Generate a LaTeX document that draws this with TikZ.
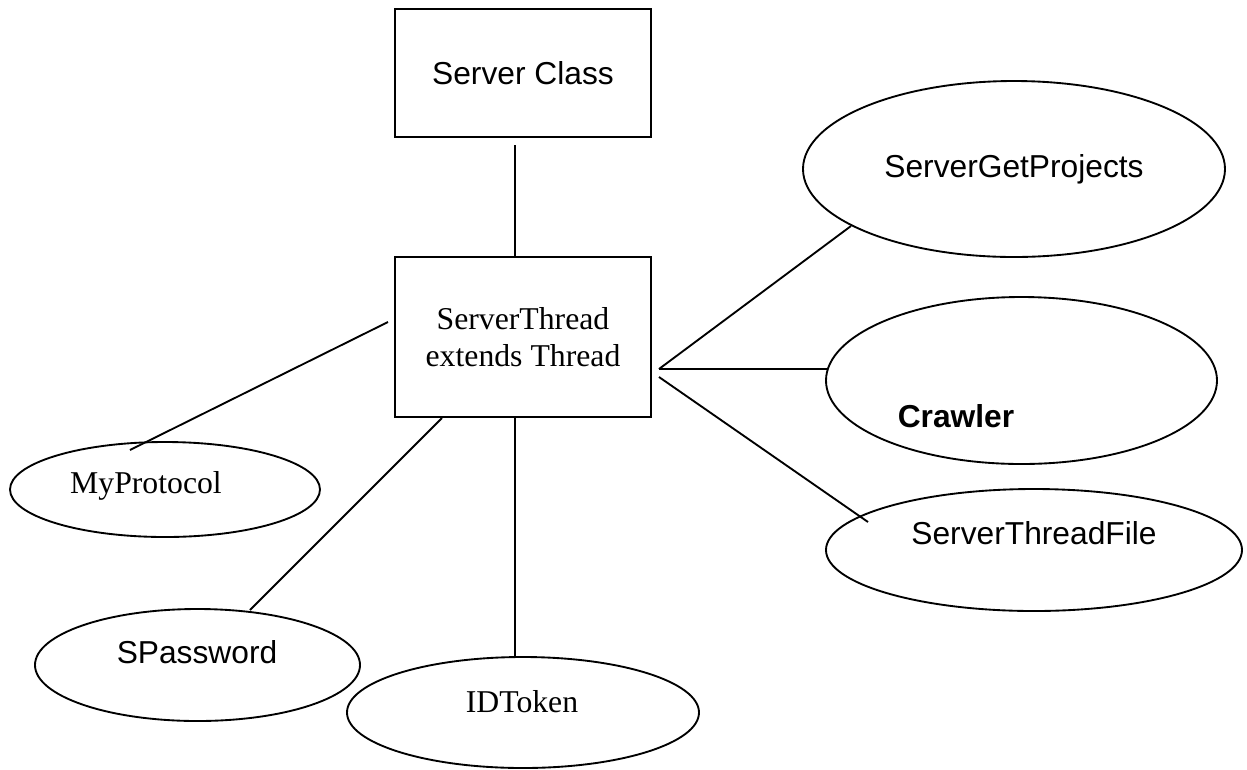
\documentclass[tikz,border=0pt]{standalone}
\usepackage{fontspec}
\setmainfont{Liberation Serif}
\setsansfont{Liberation Sans}
\usetikzlibrary{shapes.geometric,calc}

\begin{document}
\begin{tikzpicture}[x=0.75pt,y=-0.75pt,
  every node/.style={inner sep=0pt,outer sep=0pt},
  classbox/.style={draw,line width=1.4pt,rectangle,minimum width=192pt},
  oval/.style={draw,line width=1.4pt,ellipse},
  link/.style={line width=1.4pt},
  sanstext/.style={anchor=base,font=\fontsize{23.8}{28}\sffamily},
  seriftext/.style={anchor=base,font=\fontsize{23.8}{28}\rmfamily}]

% page
\fill[white] (0,0) rectangle (1247,769);
\useasboundingbox (0,0) rectangle (1247,769);

% classes
\node[classbox,minimum height=96pt,font=\fontsize{23.8}{28}\sffamily] (sc) at (523,73) {Server Class};
\node[classbox,minimum height=120pt,align=center,font=\fontsize{23.8}{27.75}\rmfamily] (st) at (523,337)
  {ServerThread\\extends Thread};

% collaborators
\node[oval,minimum width=316.5pt,minimum height=132pt] (sgp) at (1014,169) {};
\node[oval,minimum width=293.25pt,minimum height=125.25pt] (crw) at (1021.5,380.5) {};
\node[oval,minimum width=312pt,minimum height=91.5pt] (stf) at (1034,550) {};
\node[oval,minimum width=232.5pt,minimum height=71.25pt] (myp) at (165,489.5) {};
\node[oval,minimum width=243.75pt,minimum height=84pt] (spw) at (197.5,665) {};
\node[oval,minimum width=264pt,minimum height=83.25pt] (idt) at (523,712.5) {};

% their names
\node[sanstext] (sgpT) at (1014,177) {ServerGetProjects};
\node[sanstext,font=\fontsize{23.8}{28}\sffamily\bfseries] (crwT) at (956,427) {Crawler};
\node[sanstext] (stfT) at (1034,544) {ServerThreadFile};
\node[seriftext] (mypT) at (146,493) {MyProtocol};
\node[sanstext] (spwT) at (197,663) {SPassword};
\node[seriftext] (idtT) at (522,712) {IDToken};

% connector ends
\coordinate (scA) at ($(sc.south)+(-8,8)$);
\coordinate (stN) at ($(st.north)+(-8,0)$);
\coordinate (stW) at ($(st.west)+(-7,-15)$);
\coordinate (mypA) at ($(myp.center)+(-35,-39.5)$);
\coordinate (stSW) at ($(st.south west)+(47,1)$);
\coordinate (spwA) at ($(spw.center)+(52.5,-55)$);
\coordinate (stS) at ($(st.south)+(-8,0)$);
\coordinate (idtA) at ($(idt.north)+(-8,0)$);
\coordinate (stE1) at ($(st.east)+(8,32)$);
\coordinate (stE2) at ($(st.east)+(8,40)$);
\coordinate (sgpA) at ($(sgp.center)+(-163,57)$);
\coordinate (crwA) at ($(crw.center)+(-193.5,-11.5)$);
\coordinate (stfA) at ($(stf.center)+(-166,-28)$);

% connectors
\draw[link] (scA) -- (stN);
\draw[link] (stW) -- (mypA);
\draw[link] (stSW) -- (spwA);
\draw[link] (stS) -- (idtA);
\draw[link] (stE1) -- (sgpA);
\draw[link] (stE1) -- (crwA);
\draw[link] (stE2) -- (stfA);
\end{tikzpicture}
\end{document}
